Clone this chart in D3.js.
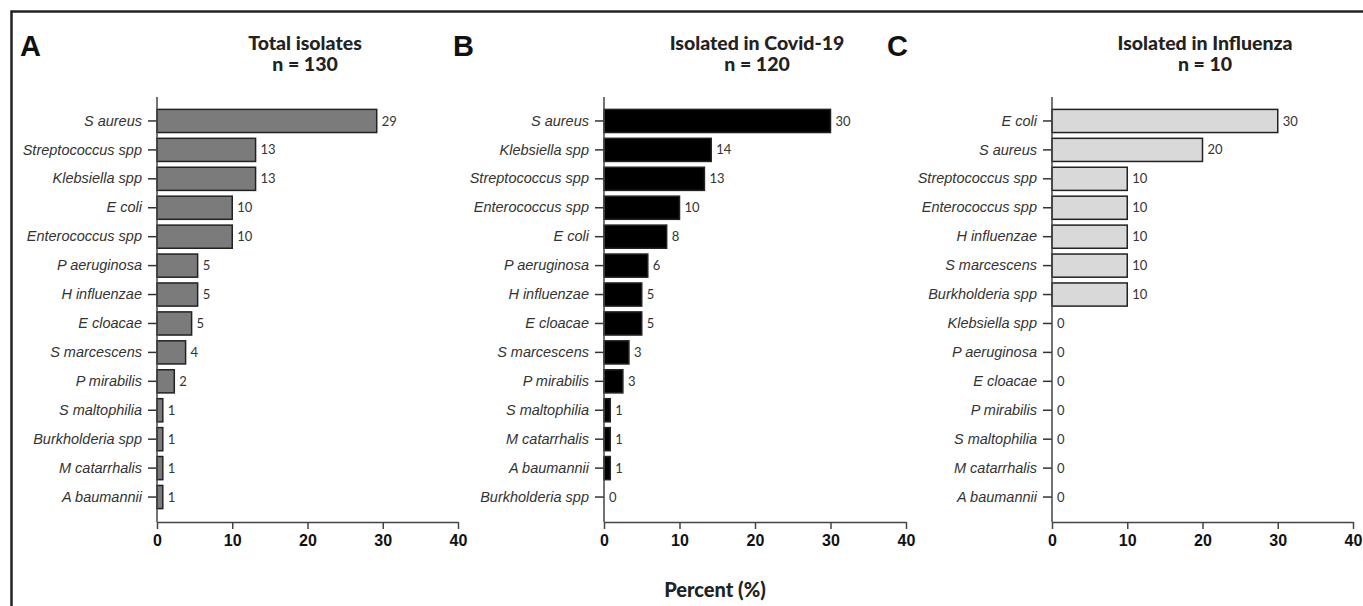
<html>
    <head>
        <script src="https://d3js.org/d3.v7.min.js"></script>
        <style>
            body { margin: 0; background: #fff; }
            svg { font-family: Lato, "Open Sans", sans-serif; }
            .cat text { font-style: italic; font-size: 14.5px; fill: #333; }
            .xaxis text { font-weight: 900; font-size: 16px; fill: #111; }
            .val { font-size: 13px; fill: #333; }
            .title { font-weight: 900; font-size: 19.5px; fill: #222; text-anchor: middle; }
            .letter { font-family: "Liberation Sans", Arial, sans-serif; font-weight: bold; font-size: 29px; fill: #111; }
        </style>
    </head>
    <body>
        <script>
            // panel A - total isolates (percent of 130)
            var catsA = ["S aureus", "Streptococcus spp", "Klebsiella spp", "E coli", "Enterococcus spp",
                "P aeruginosa", "H influenzae", "E cloacae", "S marcescens", "P mirabilis",
                "S maltophilia", "Burkholderia spp", "M catarrhalis", "A baumannii"];
            var valsA = [29.2, 13.1, 13.1, 10.0, 10.0, 5.4, 5.4, 4.6, 3.8, 2.3, 0.77, 0.77, 0.77, 0.77];

            // panel B - covid-19 (percent of 120)
            var catsB = ["S aureus", "Klebsiella spp", "Streptococcus spp", "Enterococcus spp", "E coli",
                "P aeruginosa", "H influenzae", "E cloacae", "S marcescens", "P mirabilis",
                "S maltophilia", "M catarrhalis", "A baumannii", "Burkholderia spp"];
            var valsB = [30.0, 14.2, 13.3, 10.0, 8.3, 5.8, 5.0, 5.0, 3.3, 2.5, 0.83, 0.83, 0.83, 0];

            // panel C - influenza (percent of 10)
            var catsC = ["E coli", "S aureus", "Streptococcus spp", "Enterococcus spp", "H influenzae",
                "S marcescens", "Burkholderia spp", "Klebsiella spp", "P aeruginosa", "E cloacae",
                "P mirabilis", "S maltophilia", "M catarrhalis", "A baumannii"];
            var valsC = [30, 20, 10, 10, 10, 10, 10, 0, 0, 0, 0, 0, 0, 0];

            var xTicks = [0, 10, 20, 30, 40];

            var panels = [
                {letter: "A", title: "Total isolates", n: "n = 130", cats: catsA, vals: valsA,
                    x0: 157, x1: 458, letterX: 20, titleX: 305, fill: "#7b7b7b"},
                {letter: "B", title: "Isolated in Covid-19", n: "n = 120", cats: catsB, vals: valsB,
                    x0: 604, x1: 906, letterX: 453, titleX: 757, fill: "#000"},
                {letter: "C", title: "Isolated in Influenza", n: "n = 10", cats: catsC, vals: valsC,
                    x0: 1052, x1: 1353, letterX: 887, titleX: 1205, fill: "#d9d9d9"}
            ];

            var svg = d3.select("body").append("svg")
                .attr("width", 1363)
                .attr("height", 606);

            // frame
            svg.append("path")
                .attr("d", "M11.5,606 V11.5 H1363")
                .attr("fill", "none")
                .attr("stroke", "#222")
                .attr("stroke-width", 2.5);

            var axisTop = 97, axisBottom = 522;

            panels.forEach(function(p) {
                var x = d3.scaleLinear().domain([0, 40]).range([p.x0, p.x1]);
                var y = d3.scaleBand().domain(p.cats).range([106.5, 511.5])
                    .paddingInner(0.2).paddingOuter(0.1);

                var g = svg.append("g");

                g.append("text").attr("class", "letter")
                    .attr("x", p.letterX).attr("y", 56).text(p.letter);
                g.append("text").attr("class", "title")
                    .attr("x", p.titleX).attr("y", 50).text(p.title);
                g.append("text").attr("class", "title")
                    .attr("x", p.titleX).attr("y", 71).text(p.n);

                // bars
                g.selectAll("rect")
                    .data(p.vals)
                    .enter().append("rect")
                        .attr("x", x(0))
                        .attr("y", function(d, i) { return y(p.cats[i]); })
                        .attr("width", function(d) { return x(d) - x(0); })
                        .attr("height", y.bandwidth())
                        .attr("fill", p.fill)
                        .attr("stroke", function(d) { return d > 0 ? "#222" : "none"; })
                        .attr("stroke-width", 1.5);

                // value labels
                g.selectAll(".val")
                    .data(p.vals)
                    .enter().append("text")
                        .attr("class", "val")
                        .attr("x", function(d) { return x(d) + 5; })
                        .attr("y", function(d, i) { return y(p.cats[i]) + y.bandwidth() / 2; })
                        .attr("dy", "0.35em")
                        .text(function(d) { return Math.round(d); });

                // y axis
                var ya = g.append("g").attr("class", "cat")
                    .attr("transform", "translate(" + x(0) + ",0)")
                    .call(d3.axisLeft(y).tickSize(9).tickPadding(6));
                ya.select(".domain").remove();
                ya.selectAll("line").attr("stroke", "#333").attr("stroke-width", 1.5);
                g.append("line")
                    .attr("x1", x(0)).attr("x2", x(0))
                    .attr("y1", axisTop).attr("y2", axisBottom)
                    .attr("stroke", "#444").attr("stroke-width", 1.5);

                // x axis
                var xa = g.append("g").attr("class", "xaxis")
                    .attr("transform", "translate(0," + axisBottom + ")")
                    .call(d3.axisBottom(x).tickValues(xTicks).tickSize(7).tickPadding(6).tickSizeOuter(0));
                xa.select(".domain").attr("stroke", "#444").attr("stroke-width", 1.5);
                xa.selectAll("line").attr("stroke", "#444").attr("stroke-width", 1.5);
            });

            svg.append("text").attr("class", "title")
                .style("font-size", "20px")
                .attr("x", 715).attr("y", 597).text("Percent (%)");
        </script>
    </body>
</html>
